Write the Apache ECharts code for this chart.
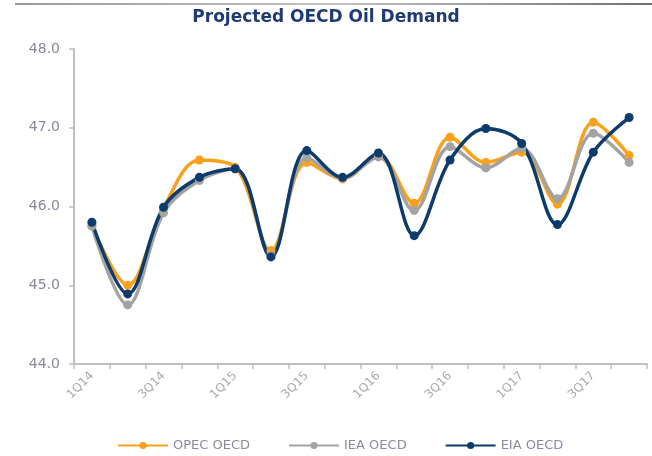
<!DOCTYPE html>
<html><head><meta charset="utf-8">
<script src="https://cdn.jsdelivr.net/npm/echarts@6/dist/echarts.min.js"></script>
<style>html,body{margin:0;padding:0;background:#fff}#c{width:652px;height:456px}</style>
</head><body><div id="c"></div>
<script>
var categories = ['1Q14','2Q14','3Q14','4Q14','1Q15','2Q15','3Q15','4Q15','1Q16','2Q16','3Q16','4Q16','1Q17','2Q17','3Q17','4Q17'];
var opec = [45.76, 45.00, 45.98, 46.59, 46.50, 45.44, 46.56, 46.35, 46.65, 46.04, 46.88, 46.56, 46.69, 46.03, 47.07, 46.65];
var iea  = [45.75, 44.75, 45.92, 46.33, 46.48, 45.38, 46.62, 46.36, 46.63, 45.95, 46.76, 46.49, 46.74, 46.10, 46.93, 46.56];
var eia  = [45.80, 44.89, 45.99, 46.37, 46.48, 45.36, 46.71, 46.37, 46.68, 45.63, 46.59, 46.99, 46.80, 45.77, 46.69, 47.13];
var yTicks = [44, 45, 46, 47, 48];

var chart = echarts.init(document.getElementById('c'), null, {renderer:'canvas'});
function mk(name, data, color){
  return {name:name, type:'line', data:data, smooth:0.35, symbol:'circle', symbolSize:9,
    lineStyle:{color:color, width:3.5}, itemStyle:{color:color}, emphasis:{disabled:true}};
}
chart.setOption({
  animation:false,
  title:{text:'Projected OECD Oil Demand', left:'center', top:4,
    textStyle:{fontFamily:'DejaVu Sans', fontWeight:'bold', fontSize:17, color:'#1f3b73'}},
  graphic:[{type:'rect', shape:{x:15, y:3, width:637, height:2},
    style:{fill:new echarts.graphic.LinearGradient(0,0,1,0,[{offset:0,color:'#9a9a9a'},{offset:0.5,color:'#c4c4c4'},{offset:1,color:'#707070'}])}}],
  grid:{left:74, right:5, top:49, bottom:92},
  legend:{top:434, left:112, itemGap:38, itemWidth:50, itemHeight:9,
    textStyle:{fontFamily:'DejaVu Sans', fontSize:13, color:'#8a8aa0'},
    data:['OPEC OECD','IEA OECD','EIA OECD']},
  xAxis:{type:'category', data:categories, boundaryGap:true,
    axisLine:{lineStyle:{color:'#bfbfbf', width:2}},
    axisTick:{show:true, interval:0, length:5, lineStyle:{color:'#bfbfbf', width:1.5}},
    axisLabel:{interval:1, rotate:45, fontFamily:'DejaVu Sans', fontSize:12, color:'#a8a8b0', margin:10}},
  yAxis:{type:'value', min:yTicks[0], max:yTicks[yTicks.length-1], interval:1,
    axisLine:{show:true, lineStyle:{color:'#bfbfbf', width:2}},
    axisTick:{show:true, length:5, lineStyle:{color:'#bfbfbf', width:1.5}},
    splitLine:{show:false},
    axisLabel:{formatter:function(v){return v.toFixed(1);}, fontFamily:'DejaVu Sans', fontSize:14, color:'#8a87a0', margin:14}},
  series:[mk('OPEC OECD', opec, '#f9a11b'), mk('IEA OECD', iea, '#a3a3a3'), mk('EIA OECD', eia, '#0c3b6c')]
});
</script></body></html>
